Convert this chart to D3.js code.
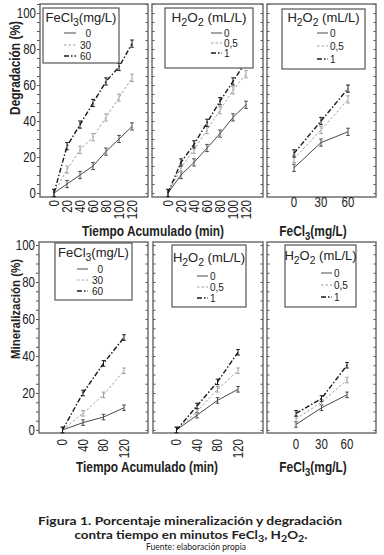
<!DOCTYPE html>
<html>
<head>
<meta charset="utf-8">
<script src="https://cdn.jsdelivr.net/npm/d3@7"></script>
<style>
  body { margin: 0; background: #fff; }
  svg { display: block; }
  text { font-family: "Liberation Sans", Arial, sans-serif; fill: #222; }
</style>
</head>
<body>
<svg id="grafico"></svg>
<script>
/* ejes x */
const tiempoDeg = [0, 20, 40, 60, 80, 100, 120];
const tiempoMin = [0, 40, 80, 120];
const dosisFe = [0, 30, 60];

/* Degradación vs tiempo, FeCl3 0 / 30 / 60 mg/L */
const degFe0  = [0, 5, 10, 15, 23, 30, 37];
const degFe30 = [0, 13, 24, 31, 42, 53, 64];
const degFe60 = [0, 26, 38, 50, 62, 70, 83];

/* Degradación vs tiempo, H2O2 0 / 0,5 / 1 mL/L */
const degH0  = [0, 10, 17, 25, 33, 42, 49];
const degH05 = [0, 14, 24, 35, 46, 57, 66];
const degH1  = [0, 17, 27, 39, 51, 62, 73];

/* Degradación vs FeCl3 */
const degC0  = [14, 28, 34];
const degC05 = [19, 35, 52];
const degC1  = [22, 40, 58];

/* Mineralización vs tiempo, FeCl3 */
const minFe0  = [0, 4, 7, 12];
const minFe30 = [0, 9, 19, 32];
const minFe60 = [0, 20, 36, 50];

/* Mineralización vs tiempo, H2O2 */
const minH0  = [0, 8, 16, 22];
const minH05 = [0, 10, 22, 32];
const minH1  = [0, 13, 26, 42];

/* Mineralización vs FeCl3 */
const minC0  = [3, 12, 19];
const minC05 = [6, 15, 27];
const minC1  = [9, 17, 35];

/* barras de error (aprox.) */
const errDeg = 2;
const errMin = 1.5;

/* etiquetas */
const nivelesFe = ["0", "30", "60"];
const nivelesH = ["0", "0,5", "1"];
const ticksY = [0, 20, 40, 60, 80, 100];
const tituloFe = [["FeCl", 0], ["3", 1], ["(mg/L)", 0]];
const tituloH = [["H", 0], ["2", 1], ["O", 0], ["2", 1], [" (mL/L)", 0]];

const W = 384, H = 555;
const svg = d3.select("#grafico").attr("width", W).attr("height", H);

/* estilo de cada serie: sólida, punteada clara, raya-punto oscura */
const estilos = [
  { color: "#4a4a4a", dash: null, w: 1 },
  { color: "#a0a0a0", dash: "2.5,2", w: 1 },
  { color: "#1a1a1a", dash: "5,2,1.5,2", w: 1.4 }
];

/* las dos filas comparten escala y */
const filas = {
  deg: { y: d3.scaleLinear().domain([0, 100]).range([193, 13]), y0: 4, y1: 197, err: errDeg, yMax: 105 },
  min: { y: d3.scaleLinear().domain([0, 100]).range([430, 245]), y0: 242, y1: 433, err: errMin, yMax: 100 }
};

const paneles = [
  { fila: "deg", x0: 40, x1: 148, dom: [0, 120], rango: [54, 132], xv: tiempoDeg, rot: true, labY: 200,
    series: [degFe0, degFe30, degFe60], ejeY: true,
    ley: { box: [43, 8, 119, 63], tY: 22, tSize: 13, filas: [33, 45, 56], linea: [64, 76], lx: 91, anchor: "end", niveles: nivelesFe, titulo: tituloFe } },
  { fila: "deg", x0: 152, x1: 263, dom: [0, 120], rango: [168, 246], xv: tiempoDeg, rot: true, labY: 200,
    series: [degH0, degH05, degH1],
    ley: { box: [165, 8, 253, 68], tY: 22, tSize: 13.5, filas: [33, 43, 53], linea: [211, 222], lx: 224, anchor: "start", niveles: nivelesH, titulo: tituloH } },
  { fila: "deg", x0: 267, x1: 376, dom: [0, 60], rango: [294, 348], xv: dosisFe, rot: false, labY: 207,
    series: [degC0, degC05, degC1],
    ley: { box: [282, 9, 365, 69], tY: 22, tSize: 13, filas: [33, 46, 59], linea: [317, 328], lx: 330, anchor: "start", niveles: nivelesH, titulo: tituloH } },
  { fila: "min", x0: 39, x1: 148, dom: [0, 120], rango: [62.5, 124], xv: tiempoMin, rot: true, labY: 439,
    series: [minFe0, minFe30, minFe60], ejeY: true,
    ley: { box: [55, 243, 132, 300], tY: 257, tSize: 13, filas: [269, 280, 291], linea: [77, 88], lx: 103, anchor: "end", niveles: nivelesFe, titulo: tituloFe } },
  { fila: "min", x0: 153, x1: 263, dom: [0, 120], rango: [176.5, 238], xv: tiempoMin, rot: true, labY: 439,
    series: [minH0, minH05, minH1],
    ley: { box: [172, 245, 246, 307], tY: 262, tSize: 13, filas: [276, 287, 298], linea: [197, 208], lx: 210, anchor: "start", niveles: nivelesH, titulo: tituloH } },
  { fila: "min", x0: 267, x1: 376, dom: [0, 60], rango: [296, 347], xv: dosisFe, rot: false, labY: 449,
    series: [minC0, minC05, minC1],
    ley: { box: [285, 245, 356, 307], tY: 260, tSize: 13, filas: [273, 285, 297], linea: [321, 332], lx: 334, anchor: "start", niveles: nivelesH, titulo: tituloH } }
];

/* texto con subíndices */
function ponerTexto(sel, partes, size) {
  let bajado = false;
  partes.forEach(([s, sub]) => {
    let dy = 0;
    if (sub && !bajado) { dy = size * 0.28; bajado = true; }
    else if (!sub && bajado) { dy = -size * 0.28; bajado = false; }
    sel.append("tspan").attr("dy", dy).attr("font-size", sub ? size * 0.8 : size).text(s);
  });
}

paneles.forEach(p => {
  const f = filas[p.fila];
  const y = f.y;
  const x = d3.scaleLinear().domain(p.dom).range(p.rango);
  const g = svg.append("g");
  const menores = d3.range(0, f.yMax + 0.1, 5);

  /* marcas menores hacia adentro, lado derecho */
  g.append("g")
    .attr("transform", "translate(" + p.x1 + ",0)")
    .call(d3.axisLeft(y).tickValues(menores).tickSize(2.5).tickFormat(""))
    .call(a => a.select(".domain").remove())
    .selectAll("line").attr("stroke", "#555");

  if (p.ejeY) {
    /* eje izquierdo con etiquetas */
    const eje = g.append("g")
      .attr("transform", "translate(" + p.x0 + ",0)")
      .call(d3.axisLeft(y).tickValues(menores).tickSize(3).tickPadding(2).tickFormat(d => ticksY.includes(d) ? d : ""));
    eje.select(".domain").remove();
    eje.selectAll("line").attr("stroke", "#555");
    eje.selectAll("text")
      .attr("font-size", 14)
      .attr("font-family", "Liberation Sans, Arial, sans-serif")
      .attr("fill", "#333")
      .attr("transform", "scale(0.82,1)");
  } else {
    g.append("g")
      .attr("transform", "translate(" + p.x0 + ",0)")
      .call(d3.axisRight(y).tickValues(menores).tickSize(2.5).tickFormat(""))
      .call(a => a.select(".domain").remove())
      .selectAll("line").attr("stroke", "#555");
  }

  /* marco */
  g.append("rect")
    .attr("x", p.x0).attr("y", f.y0)
    .attr("width", p.x1 - p.x0).attr("height", f.y1 - f.y0)
    .attr("fill", "none").attr("stroke", "#666").attr("stroke-width", 1.4);

  /* etiquetas del eje x */
  g.selectAll(null).data(p.xv).join("text")
    .attr("transform", d => p.rot
      ? "translate(" + x(d) + "," + p.labY + ") rotate(-90) scale(0.82,1)"
      : "translate(" + x(d) + "," + p.labY + ") scale(0.82,1)")
    .attr("dy", p.rot ? "0.35em" : 0)
    .attr("text-anchor", p.rot ? "end" : "middle")
    .attr("font-size", 14)
    .attr("fill", "#333")
    .text(d => d);

  /* series */
  p.series.forEach((vals, i) => {
    const est = estilos[i];
    const pts = p.xv.map((xv, k) => [xv, vals[k]]);
    g.append("path")
      .datum(pts)
      .attr("d", d3.line().x(d => x(d[0])).y(d => y(d[1])))
      .attr("fill", "none")
      .attr("stroke", est.color)
      .attr("stroke-width", est.w)
      .attr("stroke-dasharray", est.dash);
    g.selectAll(null).data(pts).join("path")
      .attr("d", d => {
        const cx = x(d[0]), t = y(d[1] + f.err), b = y(d[1] - f.err);
        return "M" + (cx - 1.8) + "," + t + "H" + (cx + 1.8) +
               "M" + cx + "," + t + "V" + b +
               "M" + (cx - 1.8) + "," + b + "H" + (cx + 1.8);
      })
      .attr("fill", "none")
      .attr("stroke", est.color)
      .attr("stroke-width", 1);
  });

  /* leyenda */
  const L = p.ley;
  const lg = g.append("g");
  lg.append("rect")
    .attr("x", L.box[0]).attr("y", L.box[1])
    .attr("width", L.box[2] - L.box[0]).attr("height", L.box[3] - L.box[1])
    .attr("fill", "#fff").attr("stroke", "#555").attr("stroke-width", 1.2);
  const tt = lg.append("text")
    .attr("x", (L.box[0] + L.box[2]) / 2)
    .attr("y", L.tY)
    .attr("text-anchor", "middle")
    .attr("fill", "#222");
  ponerTexto(tt, L.titulo, L.tSize);
  L.niveles.forEach((nv, i) => {
    const est = estilos[i];
    lg.append("line")
      .attr("x1", L.linea[0]).attr("x2", L.linea[1])
      .attr("y1", L.filas[i]).attr("y2", L.filas[i])
      .attr("stroke", est.color).attr("stroke-width", est.w)
      .attr("stroke-dasharray", est.dash);
    lg.append("text")
      .attr("x", L.lx).attr("y", L.filas[i])
      .attr("dy", "0.35em")
      .attr("text-anchor", L.anchor)
      .attr("font-size", 10)
      .text(nv);
  });
});

/* títulos de ejes (letra angosta: escala horizontal) */
function tituloEje(x, y, partes, size, rot) {
  const t = svg.append("text")
    .attr("transform", "translate(" + x + "," + y + ")" + (rot ? " rotate(-90)" : "") + " scale(0.85,1)")
    .attr("text-anchor", "middle")
    .attr("font-weight", "bold");
  ponerTexto(t, partes, size);
  return t;
}

tituloEje(20, 68, [["Degradación (%)", 0]], 14, true);
tituloEje(20, 309, [["Mineralización (%)", 0]], 13.5, true);
tituloEje(153, 236, [["Tiempo Acumulado (min)", 0]], 14, false);
tituloEje(313, 236, [["FeCl", 0], ["3", 1], ["(mg/L)", 0]], 14, false);
tituloEje(147, 472, [["Tiempo Acumulado (min)", 0]], 14, false);
tituloEje(313, 472, [["FeCl", 0], ["3", 1], ["(mg/L)", 0]], 14, false);

/* pie de figura */
const pie = svg.append("g");
pie.append("text")
  .attr("x", 190).attr("y", 524.5)
  .attr("text-anchor", "middle")
  .attr("font-weight", "bold").attr("font-size", 11.5)
  .attr("textLength", 304).attr("lengthAdjust", "spacingAndGlyphs")
  .style("font-family", "Lato, 'Open Sans', sans-serif")
  .text("Figura 1. Porcentaje mineralización y degradación");
const l2 = pie.append("text")
  .attr("x", 191).attr("y", 538.5)
  .attr("text-anchor", "middle")
  .attr("font-weight", "bold")
  .attr("textLength", 233).attr("lengthAdjust", "spacingAndGlyphs")
  .style("font-family", "Lato, 'Open Sans', sans-serif");
ponerTexto(l2, [["contra tiempo en minutos FeCl", 0], ["3", 1], [", H", 0], ["2", 1], ["O", 0], ["2", 1], [".", 0]], 11.5);
pie.append("text")
  .attr("x", 196).attr("y", 549.5)
  .attr("text-anchor", "middle")
  .attr("font-size", 8.5)
  .attr("textLength", 100).attr("lengthAdjust", "spacingAndGlyphs")
  .style("font-family", "Lato, 'Open Sans', sans-serif")
  .text("Fuente: elaboración propia");
</script>
</body>
</html>
